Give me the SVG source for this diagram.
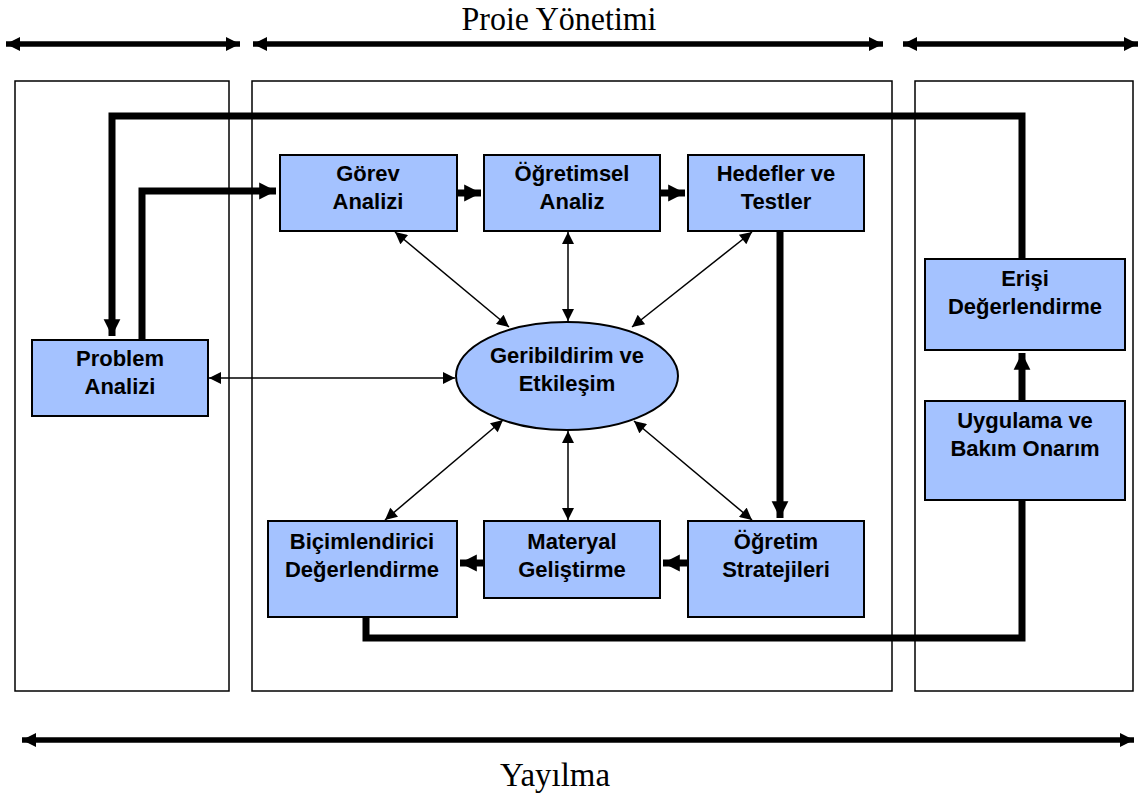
<svg xmlns="http://www.w3.org/2000/svg" width="1146" height="795" viewBox="0 0 1146 795">
<style>
.box{fill:#A4C2FF;stroke:#000;stroke-width:2}
.panel{fill:none;stroke:#000;stroke-width:1.5}
.lbl{font-family:"Liberation Sans",Arial,sans-serif;font-weight:bold;font-size:22px;text-anchor:middle;fill:#000}
.ttl{font-family:"Liberation Serif","Times New Roman",serif;font-size:34px;text-anchor:middle;fill:#000}
.thick{fill:none;stroke:#000;stroke-width:7}
.thin{fill:none;stroke:#000;stroke-width:1.5}
.span{fill:none;stroke:#000;stroke-width:5.5}
</style>
<defs>
<marker id="ah" viewBox="0 0 10 10" refX="10" refY="5" markerWidth="2.4" markerHeight="2.6" orient="auto" markerUnits="strokeWidth"><path d="M0,0 L10,5 L0,10 z" fill="#000"/></marker>
<marker id="at" viewBox="0 0 10 10" refX="10" refY="5" markerWidth="14" markerHeight="12" orient="auto-start-reverse" markerUnits="userSpaceOnUse"><path d="M0,0 L10,5 L0,10 z" fill="#000"/></marker>
<marker id="as" viewBox="0 0 10 10" refX="10" refY="5" markerWidth="2.6" markerHeight="3.6" orient="auto-start-reverse" markerUnits="strokeWidth"><path d="M0,0 L10,5 L0,10 z" fill="#000"/></marker>
</defs>
<text class="ttl" x="559" y="30" textLength="195" lengthAdjust="spacingAndGlyphs">Proie Yönetimi</text>
<text class="ttl" x="555" y="786" textLength="110" lengthAdjust="spacingAndGlyphs">Yayılma</text>
<g id="spans">
<line class="span" x1="6" y1="44" x2="240" y2="44" marker-start="url(#as)" marker-end="url(#as)"/>
<line class="span" x1="253" y1="44" x2="883" y2="44" marker-start="url(#as)" marker-end="url(#as)"/>
<line class="span" x1="903" y1="44" x2="1138" y2="44" marker-start="url(#as)" marker-end="url(#as)"/>
<line class="span" x1="22" y1="740" x2="1134" y2="740" marker-start="url(#as)" marker-end="url(#as)"/>
</g>
<g id="panels">
<rect class="panel" x="15" y="81" width="214" height="610"/>
<rect class="panel" x="252" y="81" width="640" height="610"/>
<rect class="panel" x="915" y="81" width="218" height="610"/>
</g>
<g id="connectors">
<path class="thick" d="M1022,258 V116 H112 V336" marker-end="url(#ah)"/>
<path class="thick" d="M142,340 V191 H276" marker-end="url(#ah)"/>
<line class="thick" x1="457" y1="193" x2="481" y2="193" marker-end="url(#ah)"/>
<line class="thick" x1="660" y1="193" x2="685" y2="193" marker-end="url(#ah)"/>
<line class="thick" x1="780" y1="231" x2="780" y2="518" marker-end="url(#ah)"/>
<line class="thick" x1="688" y1="563" x2="663" y2="563" marker-end="url(#ah)"/>
<line class="thick" x1="484" y1="563" x2="460" y2="563" marker-end="url(#ah)"/>
<path class="thick" d="M366,617 V638 H1022 V500"/>
<line class="thick" x1="1022" y1="401" x2="1022" y2="353" marker-end="url(#ah)"/>
<line class="thin" x1="395" y1="232" x2="509" y2="327" marker-start="url(#at)" marker-end="url(#at)"/>
<line class="thin" x1="568" y1="232" x2="568" y2="321" marker-start="url(#at)" marker-end="url(#at)"/>
<line class="thin" x1="752" y1="232" x2="632" y2="327" marker-start="url(#at)" marker-end="url(#at)"/>
<line class="thin" x1="209" y1="378" x2="455" y2="378" marker-start="url(#at)" marker-end="url(#at)"/>
<line class="thin" x1="503" y1="420" x2="385" y2="520" marker-start="url(#at)" marker-end="url(#at)"/>
<line class="thin" x1="568" y1="431" x2="568" y2="520" marker-start="url(#at)" marker-end="url(#at)"/>
<line class="thin" x1="634" y1="421" x2="752" y2="520" marker-start="url(#at)" marker-end="url(#at)"/>
</g>
<g id="gorev"><rect class="box" x="280" y="155" width="177" height="76"/><text class="lbl" x="368" y="181">Görev</text><text class="lbl" x="368" y="209">Analizi</text></g>
<g id="ogretimsel"><rect class="box" x="484" y="155" width="176" height="76"/><text class="lbl" x="572" y="181">Öğretimsel</text><text class="lbl" x="572" y="209">Analiz</text></g>
<g id="hedefler"><rect class="box" x="688" y="155" width="176" height="76"/><text class="lbl" x="776" y="181">Hedefler ve</text><text class="lbl" x="776" y="209">Testler</text></g>
<g id="problem"><rect class="box" x="32" y="340" width="176" height="76"/><text class="lbl" x="120" y="366">Problem</text><text class="lbl" x="120" y="394">Analizi</text></g>
<g id="geribildirim"><ellipse class="box" cx="567" cy="376" rx="111" ry="54"/><text class="lbl" x="567" y="363">Geribildirim ve</text><text class="lbl" x="567" y="391">Etkileşim</text></g>
<g id="bicimlendirici"><rect class="box" x="268" y="521" width="189" height="96"/><text class="lbl" x="362" y="549">Biçimlendirici</text><text class="lbl" x="362" y="577">Değerlendirme</text></g>
<g id="materyal"><rect class="box" x="484" y="521" width="176" height="77"/><text class="lbl" x="572" y="549">Materyal</text><text class="lbl" x="572" y="577">Geliştirme</text></g>
<g id="ogretim"><rect class="box" x="688" y="521" width="176" height="96"/><text class="lbl" x="776" y="549">Öğretim</text><text class="lbl" x="776" y="577">Stratejileri</text></g>
<g id="erisi"><rect class="box" x="925" y="259" width="200" height="91"/><text class="lbl" x="1025" y="286">Erişi</text><text class="lbl" x="1025" y="314">Değerlendirme</text></g>
<g id="uygulama"><rect class="box" x="925" y="401" width="200" height="99"/><text class="lbl" x="1025" y="428">Uygulama ve</text><text class="lbl" x="1025" y="456">Bakım Onarım</text></g>
</svg>
